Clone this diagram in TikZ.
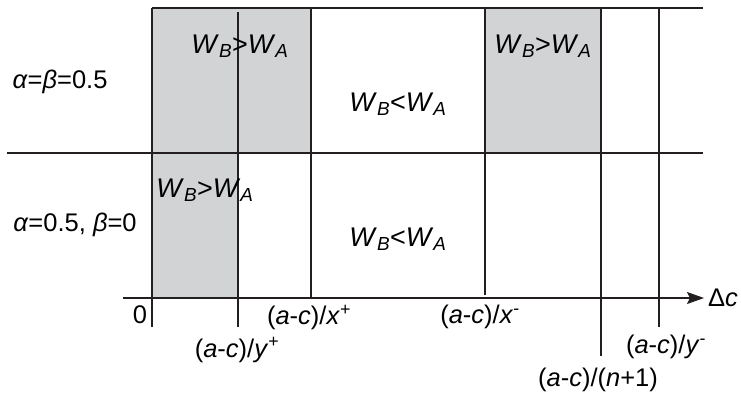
\documentclass[tikz,border=0pt]{standalone}
\usepackage{fontspec}
\setmainfont{Liberation Sans}
\usetikzlibrary{arrows.meta}
\definecolor{ln}{RGB}{35,31,32}
\definecolor{shade}{RGB}{209,211,212}
\tikzset{
  grid/.style={draw=ln, line width=1.1pt},
  shadebox/.style={fill=shade, draw=none},
  region/.style={inner sep=0pt, font=\fontsize{27}{31}\selectfont},
  lbl/.style={inner sep=0pt, font=\fontsize{25.5}{29}\selectfont},
}
\newcommand{\wgt}{\textit{W}\textsubscript{\textit{B}}>\textit{W}\textsubscript{\textit{A}}}
\newcommand{\wlt}{\textit{W}\textsubscript{\textit{B}}<\textit{W}\textsubscript{\textit{A}}}
\newcommand{\ac}{(\textit{a}-\textit{c})/}
\begin{document}
\begin{tikzpicture}[x=1pt,y=-1pt]
\useasboundingbox (0,0) rectangle (741,400);
% shaded regions
\fill[shadebox] (152,8) rectangle (311,153);
\fill[shadebox] (485,8) rectangle (601,153);
\fill[shadebox] (152,153) rectangle (238,298);
% coordinates
\coordinate (tl) at (152,8);
\coordinate (tr) at (703,8);
\coordinate (ml) at (7,153);
\coordinate (mr) at (703,153);
\coordinate (al) at (123,298);
\coordinate (ar) at (704,298);
% horizontal lines
\draw[grid] (tl) -- (tr);
\draw[grid] (ml) -- (mr);
\draw[grid, -{Stealth[length=17pt,width=12pt,inset=3pt]}] (al) -- (ar);
% vertical lines
\draw[grid] (152,8) -- (152,327);
\draw[grid] (238,12) -- (238,327);
\draw[grid] (311,8) -- (311,298);
\draw[grid] (485,8) -- (485,295);
\draw[grid] (601,8) -- (601,356);
\draw[grid] (659,8) -- (659,327);
% region labels
\node[region] (r1) at (240,46) {\wgt};
\node[region] (r2) at (398,104) {\wlt};
\node[region] (r3) at (543,46) {\wgt};
\node[region] (r4) at (205,190) {\wgt};
\node[region] (r5) at (398,239) {\wlt};
% row labels
\node[lbl] (la) at (60,82) {\textit{α}=\textit{β}=0.5};
\node[lbl] (lb) at (75,225) {\textit{α}=0.5, \textit{β}=0};
% axis labels
\node[lbl] (z) at (140,315) {0};
\node[lbl] (xp) at (309,317) {\ac\textit{x}\textsuperscript{+}};
\node[lbl] (yp) at (237,350) {\ac\textit{y}\textsuperscript{+}};
\node[lbl] (xm) at (480,317) {\ac\textit{x}\textsuperscript{-}};
\node[lbl] (ym) at (666,347) {\ac\textit{y}\textsuperscript{-}};
\node[lbl] (n1) at (598,380) {\ac(\textit{n}+1)};
\node[lbl] (dc) at (723,298) {Δ\textit{c}};
\end{tikzpicture}
\end{document}
